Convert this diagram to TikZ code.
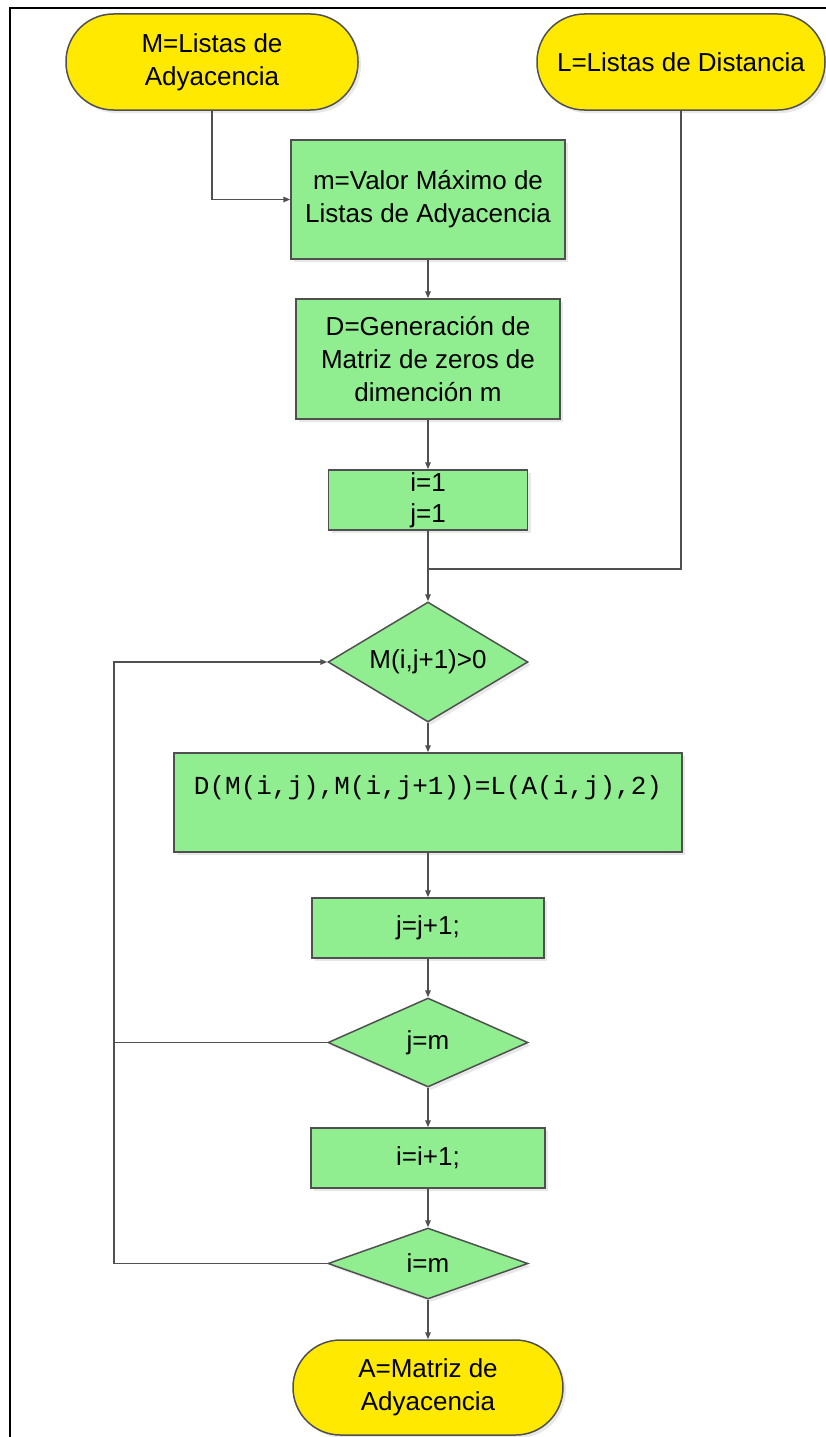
\documentclass[tikz,border=0pt]{standalone}
\usepackage{fontspec}
\setmainfont{Liberation Sans}
\setmonofont{Liberation Mono}
\usetikzlibrary{shapes.geometric,shadows,arrows.meta}
\definecolor{procgreen}{HTML}{90EE90}
\definecolor{termyellow}{HTML}{FFE900}
\definecolor{edge}{HTML}{505050}
\tikzset{
  base/.style={draw=edge, line width=1.5pt, inner sep=0pt, align=center,
    font=\fontsize{26}{33}\selectfont,
    drop shadow={shadow xshift=3pt, shadow yshift=-3pt, fill=black!18}},
  terminal/.style={base, fill=termyellow, rounded corners=47.5pt},
  process/.style={base, fill=procgreen},
  decision/.style={base, fill=procgreen, diamond},
  label/.style={font=\fontsize{26}{33}\selectfont, align=center, inner sep=0pt},
  flow/.style={draw=edge, line width=1.5pt, -{Triangle[length=7pt,width=5.5pt]}},
  line/.style={draw=edge, line width=1.5pt},
}
\begin{document}
\begin{tikzpicture}[x=1pt,y=-1pt]
\useasboundingbox (0,0) rectangle (825,1437);
% frame
\draw[line width=2.2pt, black] (10,1440) -- (10,8) -- (830,8);

% inputs
\node[terminal, minimum width=292pt, minimum height=96pt] (T1) at (212,62) {M=Listas de\\Adyacencia};
\node[terminal, minimum width=288pt, minimum height=96pt] (T2) at (681,62) {L=Listas de Distancia};

% preparation steps
\node[process, minimum width=274pt, minimum height=119pt] (B1) at (428,199.5) {m=Valor Máximo de\\Listas de Adyacencia};
\node[process, minimum width=264pt, minimum height=120pt] (B2) at (428,359) {D=Generación de\\Matriz de zeros de\\dimención m};
\node[process, minimum width=199pt, minimum height=60pt, font=\fontsize{26}{31}\selectfont] (B3) at (428,500) {i=1\\j=1};

% loop body
\node[decision, minimum width=200pt, minimum height=120pt] (D1) at (428,662) {};
\node[label] (D1t) at (D1) {M(i,j+1)>0};
\node[process, minimum width=508pt, minimum height=99pt] (B4) at (428,802.5) {};
\node[label, font=\fontsize{26}{33}\ttfamily] (B4t) at (428,788) {D(M(i,j),M(i,j+1))=L(A(i,j),2)};
\node[process, minimum width=232pt, minimum height=60pt] (B5) at (428,928) {j=j+1;};
\node[decision, minimum width=200pt, minimum height=89pt] (D2) at (428,1042.5) {};
\node[label] (D2t) at (D2) {j=m};
\node[process, minimum width=234pt, minimum height=60pt] (B6) at (428,1158) {i=i+1;};
\node[decision, minimum width=200pt, minimum height=71pt] (D3) at (428,1263.5) {};
\node[label] (D3t) at (D3) {i=m};

% output
\node[terminal, minimum width=270pt, minimum height=95pt] (T3) at (428,1387.5) {A=Matriz de\\Adyacencia};

% connectors
\coordinate (join) at (428,569);
\coordinate (loop) at (114,662);
\draw[flow] (T1.south) |- (B1.west);
\draw[flow] (B1) -- (B2);
\draw[flow] (B2) -- (B3);
\draw[line] (T2.south) |- (join);
\draw[flow] (B3.south) -- (D1.north);
\draw[flow] (D1.south) -- (B4.north);
\draw[flow] (B4) -- (B5);
\draw[flow] (B5.south) -- (D2.north);
\draw[flow] (D2.south) -- (B6.north);
\draw[flow] (B6.south) -- (D3.north);
\draw[flow] (D3.south) -- (T3.north);
\draw[line] (D3.west) -| (loop);
\draw[flow] (D2.west) -| (loop) -- (D1.west);
\end{tikzpicture}
\end{document}
